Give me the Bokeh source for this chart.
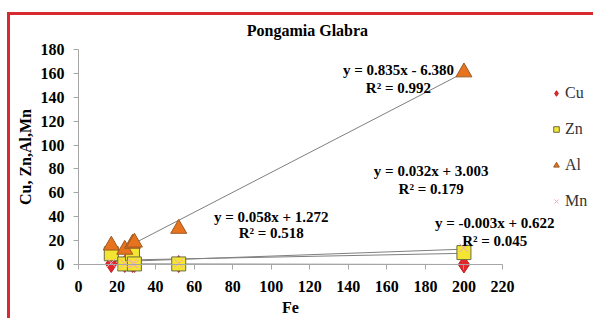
from bokeh.plotting import figure
from bokeh.models import Range1d, Legend, LegendItem, Label, FixedTicker
from bokeh.embed import file_html
from bokeh.resources import INLINE

# ---- data ----
fe = [17, 24, 28, 29, 52, 200]
cu = [0.4, 0.5, 0.5, 0.5, 0.4, 0.0]
zn = [9, 0.5, 9, 0.5, 0.5, 10]
al = [16, 12.5, 17.5, 18.5, 30, 161]
mn = [1.5, 0.5, 0.8, 0.5, 1.0, 14]

series_names = ["Cu", "Zn", "Al", "Mn"]
slopes = [-0.003, 0.032, 0.835, 0.058]
intercepts = [0.622, 3.003, -6.380, 1.272]
eq_texts = ["y = -0.003x + 0.622", "y = 0.032x + 3.003", "y = 0.835x - 6.380", "y = 0.058x + 1.272"]
r2_texts = ["R\u00b2 = 0.045", "R\u00b2 = 0.179", "R\u00b2 = 0.992", "R\u00b2 = 0.518"]
x_ticks = list(range(0, 221, 20))
y_ticks = list(range(0, 181, 20))
title_text = "Pongamia Glabra"

SERIF = "Liberation Serif"

# frame covers the whole canvas; axes are placed at x=0 / y=0
p = figure(width=586, height=306, output_backend="svg", toolbar_location=None,
           x_range=Range1d(-35.3, 268.8), y_range=Range1d(-47.7, 208.5),
           min_border_left=0, min_border_right=0, min_border_top=0, min_border_bottom=0)
p.styles = {"border-top": "3px solid #d62a2f", "border-left": "3px solid #d62a2f",
            "margin-top": "12px", "margin-left": "7px"}
p.outline_line_color = None
p.grid.visible = False
p.background_fill_color = "white"

for ax in (p.xaxis[0], p.yaxis[0]):
    ax.axis_line_color = "#a6a6a6"
    ax.major_tick_line_color = "#a6a6a6"
    ax.minor_tick_line_color = None
    ax.major_tick_out = 5
    ax.major_tick_in = 0
    ax.major_label_text_font = SERIF
    ax.major_label_text_font_style = "bold"
    ax.major_label_text_font_size = "16px"
    ax.major_label_text_color = "black"
    ax.axis_label_text_font = SERIF
    ax.axis_label_text_font_style = "bold"
    ax.axis_label_text_font_size = "16px"
    ax.axis_label_text_color = "black"

p.xaxis.ticker = FixedTicker(ticks=x_ticks)
p.yaxis.ticker = FixedTicker(ticks=y_ticks)
p.xaxis.bounds = (0, 220)
p.yaxis.bounds = (0, 180)
p.xaxis.fixed_location = 0
p.yaxis.fixed_location = 0
p.xaxis.axis_label = "Fe"
p.yaxis.axis_label = "Cu, Zn,Al,Mn"
p.xaxis.major_label_standoff = 11
p.xaxis.axis_label_standoff = 4
p.yaxis.major_label_standoff = 9
p.yaxis.axis_label_standoff = 4

# title
p.add_layout(Label(x=118.8, y=196, text=title_text, text_align="center", text_baseline="middle",
                   text_font=SERIF, text_font_style="bold", text_font_size="16px", text_color="black"))

# trend lines
xmin, xmax = min(fe), max(fe)
for s, b in zip(slopes, intercepts):
    xs = [xmin, xmax]
    ys = [s * x + b for x in xs]
    p.line(xs, ys, line_color="#7f7f7f", line_width=1)

r_cu = p.scatter(fe, cu, marker="diamond", size=17, fill_color="#e3262b", line_color="#c01f24")
r_zn = p.scatter(fe, zn, marker="square", size=14, fill_color="#f3e531", line_color="#6b6b45", line_width=1)
r_al = p.scatter(fe, al, marker="triangle", size=16, fill_color="#e8731e", line_color="#9b5a22", line_width=1)
r_mn = p.scatter(fe, mn, marker="x", size=12, line_color="#f0a8bf", line_width=1)

legend = Legend(items=[LegendItem(label=n, renderers=[r]) for n, r in zip(series_names, [r_cu, r_zn, r_al, r_mn])],
                location=(539, 110), orientation="vertical",
                glyph_width=14, glyph_height=20, label_height=20, spacing=16, label_standoff=2,
                padding=0, margin=0, border_line_color=None, background_fill_alpha=0,
                label_text_font=SERIF, label_text_font_size="16px", label_text_color="#333333")
p.add_layout(legend, "center")

# equation annotations (positions in data coordinates)
eq_pos = [(216, 35, 20), (183, 78, 63), (166, 162.5, 148), (100, 40, 26)]
for (x, y1, y2), t1, t2 in zip(eq_pos, eq_texts, r2_texts):
    for yy, tt in ((y1, t1), (y2, t2)):
        p.add_layout(Label(x=x, y=yy, text=tt, text_align="center", text_baseline="middle",
                           text_font=SERIF, text_font_style="bold", text_font_size="15px",
                           text_color="black"))

open("out.html", "w").write(file_html(p, INLINE))
